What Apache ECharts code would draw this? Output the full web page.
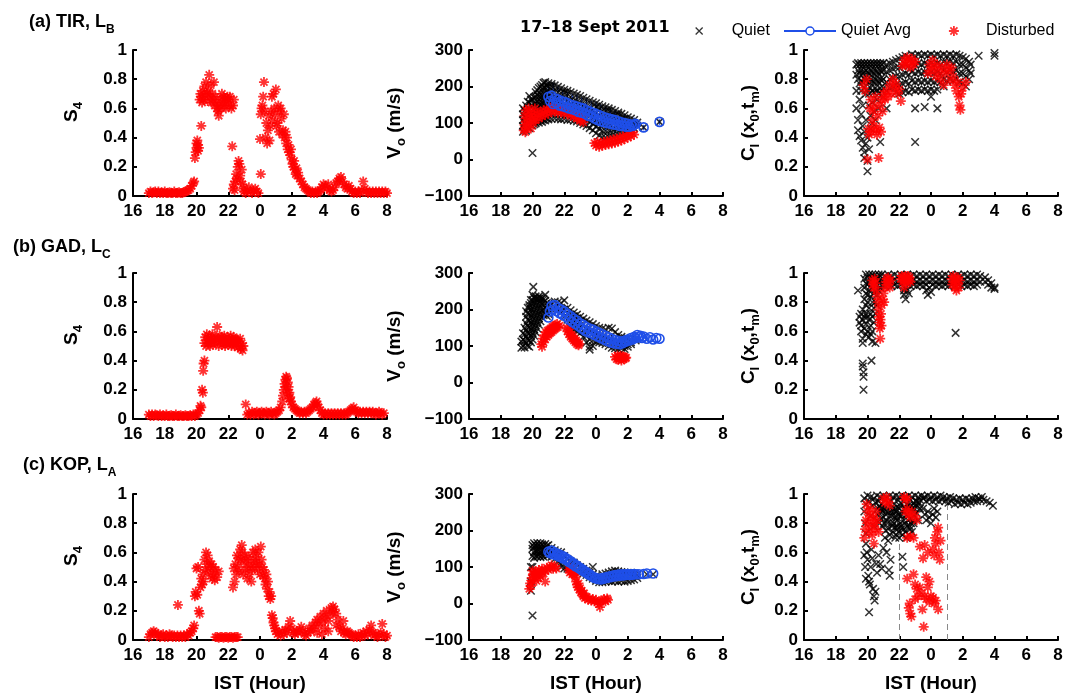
<!DOCTYPE html>
<html>
<head>
<meta charset="utf-8">
<title>S4, drift velocity and correlation, 17–18 Sept 2011</title>
<script src="https://cdn.jsdelivr.net/npm/echarts@6/dist/echarts.min.js"></script>
<style>
html,body{margin:0;padding:0;background:#fff;}
#chart{width:1076px;height:698px;}
</style>
</head>
<body>
<div id="chart"></div>
<script>
// Time axis in IST hours; values after midnight continue past 24 (25 = 01 IST).
const hourLabels = ['16','18','20','22','0','2','4','6','8'];

// Each dataset is a list of [hour, [values at that hour]].

// ---------- (a) TIR, L_B ----------
const tirS4 = [
[17.0,[0.02]],[17.1,[0.03]],[17.2,[0.02]],[17.3,[0.025]],[17.4,[0.03]],[17.5,[0.02]],[17.6,[0.03]],[17.7,[0.02]],[17.8,[0.025]],[17.9,[0.02]],
[18.0,[0.03]],[18.1,[0.02]],[18.2,[0.02]],[18.3,[0.025]],[18.4,[0.02]],[18.5,[0.02]],[18.6,[0.03]],[18.7,[0.02]],[18.8,[0.02]],[18.9,[0.025]],
[19.0,[0.02]],[19.1,[0.02]],[19.2,[0.025]],[19.3,[0.03]],[19.4,[0.035]],[19.5,[0.04]],[19.6,[0.05]],[19.7,[0.07]],[19.8,[0.09]],[19.85,[0.1]],
[19.9,[0.26]],[19.95,[0.3]],[20.0,[0.33,0.36]],[20.05,[0.38]],[20.1,[0.31,0.35]],[20.15,[0.33]],[20.3,[0.48]],
[20.2,[0.66]],[20.25,[0.7]],[20.3,[0.68]],[20.35,[0.64]],[20.4,[0.72]],[20.45,[0.66]],[20.5,[0.75]],[20.55,[0.69]],[20.6,[0.78]],[20.65,[0.7]],
[20.7,[0.65]],[20.75,[0.72]],[20.8,[0.83]],[20.85,[0.68]],[20.9,[0.76]],[20.95,[0.64]],[21.0,[0.7]],[21.05,[0.66]],[21.1,[0.78]],[21.15,[0.62]],
[21.2,[0.68]],[21.25,[0.64]],[21.3,[0.6]],[21.35,[0.58]],[21.4,[0.55]],[21.45,[0.62]],[21.5,[0.66]],[21.55,[0.6]],[21.6,[0.7]],[21.65,[0.64]],
[21.7,[0.68]],[21.75,[0.62]],[21.8,[0.67]],[21.85,[0.6]],[21.9,[0.65]],[21.95,[0.68]],[22.0,[0.66]],[22.05,[0.62]],[22.1,[0.68]],[22.2,[0.6]],
[22.3,[0.62]],[22.35,[0.66]],[22.25,[0.34]],
[22.3,[0.05]],[22.35,[0.08]],[22.4,[0.04]],[22.45,[0.1]],[22.5,[0.15]],[22.55,[0.12]],[22.6,[0.2]],[22.65,[0.24]],[22.7,[0.22]],[22.75,[0.14]],
[22.8,[0.1]],[22.85,[0.18]],[22.9,[0.08]],[22.95,[0.05]],[23.0,[0.03]],[23.1,[0.02]],[23.2,[0.04]],[23.3,[0.06]],[23.4,[0.03]],[23.5,[0.02]],
[23.6,[0.04]],[23.7,[0.05]],[23.8,[0.03]],[23.9,[0.02]],
[24.0,[0.39]],[24.05,[0.56,0.15]],[24.1,[0.6]],[24.15,[0.62]],[24.2,[0.68]],[24.25,[0.78]],[24.3,[0.58]],[24.35,[0.4]],[24.4,[0.5]],[24.45,[0.36]],
[24.5,[0.45]],[24.55,[0.55]],[24.6,[0.38]],[24.65,[0.48]],[24.7,[0.58]],[24.75,[0.68]],[24.8,[0.52]],[24.85,[0.7]],[24.9,[0.6]],[24.95,[0.56]],
[25.0,[0.73]],[25.05,[0.48]],[25.1,[0.5]],[25.15,[0.62]],[25.2,[0.44]],[25.25,[0.58]],[25.3,[0.6]],[25.35,[0.53]],[25.4,[0.42]],[25.45,[0.45]],
[25.5,[0.56]],[25.55,[0.4]],[25.6,[0.44]],[25.65,[0.36]],[25.7,[0.4]],[25.75,[0.32]],[25.8,[0.35]],[25.85,[0.3]],[25.9,[0.28]],[25.95,[0.32]],
[26.0,[0.25]],[26.05,[0.22]],[26.1,[0.2]],[26.15,[0.24]],[26.2,[0.18]],[26.25,[0.15]],[26.3,[0.19]],[26.35,[0.14]],[26.4,[0.16]],[26.5,[0.12]],
[26.6,[0.1]],[26.7,[0.08]],[26.8,[0.06]],[26.9,[0.05]],[27.0,[0.04]],[27.1,[0.03]],[27.2,[0.02]],[27.3,[0.03]],[27.4,[0.02]],[27.5,[0.03]],
[27.6,[0.02]],[27.7,[0.03]],[27.8,[0.04]],[27.9,[0.06]],[28.0,[0.08]],[28.1,[0.07]],[28.2,[0.05]],[28.3,[0.08]],[28.4,[0.04]],[28.5,[0.03]],
[28.6,[0.04]],[28.7,[0.06]],[28.8,[0.09]],[28.9,[0.1]],[29.0,[0.12]],[29.1,[0.13]],[29.2,[0.1]],[29.3,[0.08]],[29.4,[0.06]],[29.5,[0.05]],
[29.6,[0.07]],[29.7,[0.05]],[29.8,[0.03]],[29.9,[0.02]],[30.0,[0.03]],[30.1,[0.02]],[30.2,[0.03]],[30.3,[0.02]],[30.4,[0.04]],[30.5,[0.1]],
[30.6,[0.05]],[30.7,[0.03]],[30.8,[0.02]],[30.9,[0.03]],[31.0,[0.02]],[31.1,[0.03]],[31.2,[0.02]],[31.3,[0.03]],[31.4,[0.02]],[31.5,[0.03]],
[31.6,[0.02]],[31.7,[0.03]],[31.8,[0.02]],[31.9,[0.03]],[32.0,[0.02]]
];

const tirVoQuiet = [
[19.4,[76,92,108,124,140]],[19.5,[84,100,118,134]],[19.6,[79,96,113,130,148]],[19.7,[88,104,122,140,158]],
[19.8,[86,102,120,138,156,174]],[19.9,[94,110,128,146,164]],[20.0,[93,111,129,147,165,18]],[20.1,[97,115,133,151,170]],
[20.2,[99,117,135,153,171,184]],[20.3,[104,122,140,158,176,190]],[20.4,[101,119,137,155,173,196]],[20.5,[106,124,142,160,178,200]],
[20.6,[103,121,139,157,175,193,204]],[20.7,[108,126,144,162,180,198,210]],[20.8,[107,125,143,161,179,197,212]],[20.9,[112,130,148,166,184,202]],
[21.0,[110,128,146,164,182,200,209]],[21.2,[111,129,147,165,183,201,207]],[21.4,[113,131,149,167,185,203]],[21.6,[112,130,148,166,184,199]],
[21.8,[110,128,146,164,182,195]],[22.0,[111,129,147,165,183,191]],[22.2,[108,126,144,162,180,188]],[22.4,[109,127,145,163,184]],
[22.6,[106,124,142,160,181]],[22.8,[104,122,140,158,177]],[23.0,[100,118,136,154,174]],[23.2,[96,114,132,150,169]],
[23.4,[92,110,128,146,165]],[23.6,[86,104,122,140,161]],[23.8,[80,98,116,134,157]],[24.0,[72,90,108,126,144,154]],
[24.2,[66,84,102,120,138,150]],[24.4,[61,79,97,115,133,146]],[24.6,[60,78,96,114,132,143]],[24.8,[62,80,98,116,134,140]],
[25.0,[65,83,101,119,136]],[25.2,[67,85,103,121,133]],[25.4,[70,88,106,124,129]],[25.6,[72,90,108,125]],
[25.8,[76,94,112,121]],[26.0,[80,98,116]],[26.2,[82,98,112]],[26.4,[86,97,108]],[26.6,[92,101]],[27.0,[88]],[28.0,[103]]
];
const tirVoAvg = [
[21.0,172],[21.1,160],[21.2,175],[21.3,152],[21.4,168],[21.5,155],[21.6,165],[21.7,148],[21.8,160],[21.9,146],
[22.0,158],[22.1,143],[22.2,155],[22.3,140],[22.4,150],[22.5,138],[22.6,148],[22.7,135],[22.8,145],[22.9,130],
[23.0,142],[23.1,128],[23.2,140],[23.3,125],[23.4,135],[23.5,120],[23.6,132],[23.7,118],[23.8,128],[23.9,112],
[24.0,125],[24.1,108],[24.2,122],[24.3,105],[24.4,118],[24.5,102],[24.6,115],[24.7,100],[24.8,112],[24.9,98],
[25.0,110],[25.1,96],[25.2,108],[25.3,95],[25.4,105],[25.5,92],[25.6,102],[25.7,92],[25.8,100],[25.9,90],
[26.0,98],[26.1,90],[26.2,96],[26.3,92],[26.4,95],[26.5,98],[27.0,88],[28.0,103]
];
const tirVoErr = [
[21.0,130,212],[21.3,120,210],[21.6,125,200],[21.9,115,190],[22.2,118,185],[22.5,110,180],[22.8,105,178],
[23.1,100,170],[23.4,98,168],[23.7,90,160],[24.0,85,158],[24.3,80,150],[24.6,78,145],[24.9,75,140],
[25.2,72,135],[25.5,70,128],[25.8,72,125],[26.1,75,118],[26.4,80,115],[27.0,80,95],[28.0,95,110]
];
const tirVoDist = [
[19.45,[80]],[19.5,[95,120]],[19.55,[75]],[19.6,[105,135]],[19.65,[88]],[19.7,[115]],[19.75,[140]],[19.8,[98]],[19.85,[125]],
[19.9,[85]],[19.95,[110]],[20.0,[130]],[20.05,[100]],[20.1,[118]],[20.15,[140]],[20.2,[108]],[20.3,[125]],[20.4,[112]],
[20.5,[130]],[20.6,[118]],[20.7,[135]],[20.8,[122]],[20.9,[138]],[21.0,[126]],[21.1,[142]],[21.2,[130]],[21.3,[145]],
[21.4,[132]],[21.5,[140]],[21.6,[128]],[21.7,[142]],[21.8,[132]],[21.9,[138]],[22.0,[125]],[22.1,[140]],[22.2,[128]],
[22.3,[135]],[22.4,[120]],[22.5,[130]],[22.6,[118]],[22.7,[125]],[22.8,[112]],[22.9,[118]],[23.0,[106]],[23.1,[110]],[23.2,[102]],
[23.9,[45]],[24.0,[38]],[24.1,[48]],[24.2,[35]],[24.3,[45]],[24.4,[38]],[24.5,[48]],[24.6,[40]],[24.7,[50]],[24.8,[42]],
[24.9,[52]],[25.0,[44]],[25.1,[55]],[25.2,[46]],[25.3,[57]],[25.4,[49]],[25.5,[60]],[25.6,[52]],[25.7,[63]],[25.8,[56]],
[25.9,[66]],[26.0,[60]],[26.1,[70]],[26.2,[64]],[26.3,[74]],[26.4,[68]]
];

const tirCiQuiet = [
[19.3,[0.9,0.83,0.72,0.6]],[19.4,[0.91,0.86,0.8,0.52,0.45]],[19.5,[0.9,0.84,0.77,0.66,0.41]],[19.6,[0.91,0.86,0.79,0.72,0.56,0.38]],
[19.7,[0.9,0.84,0.78,0.62,0.48,0.33]],[19.8,[0.91,0.85,0.8,0.74,0.44,0.3,0.26]],[19.9,[0.9,0.86,0.79,0.7,0.52,0.36]],
[20.0,[0.91,0.85,0.8,0.73,0.4,0.24,0.17]],[20.1,[0.9,0.84,0.78,0.7,0.62,0.32]],[20.2,[0.91,0.86,0.8,0.74,0.55,0.46]],
[20.3,[0.9,0.85,0.79,0.72,0.64,0.5]],[20.4,[0.91,0.84,0.78,0.71,0.58]],[20.5,[0.9,0.86,0.8,0.74,0.52]],[20.6,[0.91,0.85,0.79,0.72,0.66]],
[20.7,[0.9,0.84,0.78,0.7,0.6]],[20.8,[0.91,0.86,0.8,0.74,0.37]],[20.9,[0.9,0.85,0.79,0.72]],[21.0,[0.91,0.86,0.8,0.74,0.68]],
[21.2,[0.9,0.85,0.78,0.72,0.6]],[21.4,[0.91,0.86,0.8,0.74]],[21.6,[0.92,0.87,0.81,0.75]],[21.8,[0.93,0.88,0.82,0.76,0.71]],
[22.0,[0.94,0.88,0.82,0.76,0.7]],[22.2,[0.95,0.89,0.83,0.77,0.71]],[22.4,[0.96,0.9,0.84,0.78,0.72]],[22.6,[0.95,0.89,0.83,0.77,0.71]],
[22.8,[0.97,0.91,0.85,0.79,0.73]],[23.0,[0.96,0.9,0.84,0.78,0.72,0.6,0.37]],[23.2,[0.97,0.91,0.85,0.79,0.73]],[23.4,[0.96,0.9,0.84,0.78,0.72]],
[23.6,[0.97,0.91,0.85,0.79,0.73,0.61]],[23.8,[0.96,0.9,0.84,0.78,0.72]],[24.0,[0.97,0.91,0.85,0.79,0.73,0.68]],[24.2,[0.96,0.9,0.84,0.78,0.72]],
[24.4,[0.97,0.91,0.85,0.79,0.73,0.6]],[24.6,[0.96,0.9,0.84,0.78]],[24.8,[0.97,0.92,0.86,0.8,0.75]],[25.0,[0.96,0.91,0.85,0.79]],
[25.2,[0.97,0.92,0.86,0.8]],[25.4,[0.96,0.91,0.85,0.79]],[25.6,[0.97,0.92,0.86,0.8]],[25.8,[0.96,0.9,0.84,0.78]],
[26.0,[0.95,0.9,0.84,0.77]],[26.2,[0.94,0.88,0.82,0.75]],[26.4,[0.92,0.86,0.8]],[26.5,[0.9,0.84]],[27.0,[0.96]],[28.0,[0.98,0.96]]
];
const tirCiDist = [
[19.75,[0.76]],[19.85,[0.72]],[19.95,[0.8]],[20.0,[0.25]],[20.05,[0.46]],[20.1,[0.42]],[20.15,[0.6]],[20.2,[0.66]],[20.25,[0.44]],
[20.3,[0.52]],[20.35,[0.58]],[20.4,[0.48]],[20.45,[0.62]],[20.5,[0.68]],[20.55,[0.45]],[20.6,[0.42]],[20.65,[0.55]],[20.7,[0.26]],
[20.75,[0.47]],[20.8,[0.62]],[20.85,[0.44]],[20.9,[0.66]],[20.95,[0.58]],[21.0,[0.7]],[21.1,[0.66]],[21.2,[0.72]],[21.3,[0.68]],
[21.4,[0.76]],[21.5,[0.7]],[21.6,[0.8]],[21.7,[0.74]],[21.8,[0.77]],[21.9,[0.7]],[22.0,[0.73]],[22.1,[0.65]],[22.2,[0.89]],
[22.3,[0.93]],[22.4,[0.9]],[22.5,[0.95]],[22.6,[0.92]],[22.7,[0.88]],[22.8,[0.94]],[22.9,[0.9]],[23.0,[0.92]],
[23.8,[0.84]],[23.9,[0.9]],[24.0,[0.86]],[24.1,[0.93]],[24.2,[0.88]],[24.3,[0.82]],[24.4,[0.9]],[24.5,[0.85]],[24.6,[0.8]],
[24.7,[0.88]],[24.8,[0.76]],[24.9,[0.84]],[25.0,[0.9]],[25.1,[0.86]],[25.2,[0.79]],[25.3,[0.88]],[25.4,[0.82]],[25.5,[0.76]],
[25.6,[0.72]],[25.7,[0.78]],[25.75,[0.68]],[25.8,[0.62]],[25.85,[0.59]],[25.9,[0.7]],[26.0,[0.74]],[26.2,[0.78]]
];

// ---------- (b) GAD, L_C ----------
const gadS4 = [
[17.0,[0.03]],[17.1,[0.02]],[17.2,[0.03]],[17.3,[0.02]],[17.4,[0.03]],[17.5,[0.025]],[17.6,[0.02]],[17.7,[0.03]],[17.8,[0.02]],[17.9,[0.025]],
[18.0,[0.02]],[18.1,[0.03]],[18.2,[0.02]],[18.3,[0.02]],[18.4,[0.025]],[18.5,[0.02]],[18.6,[0.02]],[18.7,[0.03]],[18.8,[0.02]],[18.9,[0.02]],
[19.0,[0.025]],[19.1,[0.02]],[19.2,[0.02]],[19.3,[0.025]],[19.4,[0.02]],[19.5,[0.02]],[19.6,[0.025]],[19.7,[0.02]],[19.8,[0.03]],[19.9,[0.02]],
[20.0,[0.03]],[20.1,[0.04]],[20.2,[0.06]],[20.25,[0.09]],[20.3,[0.08]],[20.35,[0.2]],[20.4,[0.18]],[20.42,[0.33]],[20.45,[0.38]],[20.5,[0.4]],
[20.5,[0.52]],[20.55,[0.56]],[20.6,[0.5]],[20.65,[0.58]],[20.7,[0.54]],[20.75,[0.52]],[20.8,[0.57]],[20.85,[0.5]],[20.9,[0.55]],[20.95,[0.53]],
[21.0,[0.58]],[21.05,[0.51]],[21.1,[0.55]],[21.15,[0.52]],[21.2,[0.56]],[21.3,[0.63]],[21.35,[0.54]],[21.4,[0.5]],[21.45,[0.57]],[21.5,[0.53]],
[21.55,[0.56]],[21.6,[0.51]],[21.65,[0.55]],[21.7,[0.52]],[21.75,[0.57]],[21.8,[0.5]],[21.85,[0.54]],[21.9,[0.52]],[21.95,[0.56]],[22.0,[0.51]],
[22.05,[0.55]],[22.1,[0.52]],[22.15,[0.57]],[22.2,[0.5]],[22.25,[0.54]],[22.3,[0.52]],[22.35,[0.56]],[22.4,[0.5]],[22.45,[0.55]],[22.5,[0.52]],
[22.55,[0.54]],[22.6,[0.49]],[22.65,[0.53]],[22.7,[0.5]],[22.75,[0.55]],[22.8,[0.48]],[22.85,[0.52]],[22.9,[0.47]],[22.95,[0.5]],
[23.1,[0.1]],[23.2,[0.03]],[23.3,[0.04]],[23.4,[0.03]],[23.5,[0.05]],[23.6,[0.03]],[23.7,[0.04]],[23.8,[0.05]],[23.9,[0.03]],[24.0,[0.04]],
[24.1,[0.05]],[24.2,[0.04]],[24.3,[0.03]],[24.4,[0.05]],[24.5,[0.04]],[24.6,[0.03]],[24.7,[0.05]],[24.8,[0.04]],[24.9,[0.03]],[25.0,[0.04]],
[25.1,[0.05]],[25.2,[0.06]],[25.3,[0.08]],[25.4,[0.12]],[25.45,[0.16]],[25.5,[0.2]],[25.55,[0.24]],[25.6,[0.27]],[25.65,[0.29,0.22]],[25.7,[0.28]],
[25.75,[0.25,0.18]],[25.8,[0.22]],[25.85,[0.18,0.14]],[25.9,[0.15]],[25.95,[0.12]],[26.0,[0.1]],[26.1,[0.08]],[26.2,[0.07]],[26.3,[0.06]],[26.4,[0.05]],
[26.5,[0.04]],[26.6,[0.05]],[26.7,[0.04]],[26.8,[0.05]],[26.9,[0.04]],[27.0,[0.05]],[27.1,[0.06]],[27.2,[0.07]],[27.3,[0.08]],[27.4,[0.1]],
[27.5,[0.11]],[27.56,[0.12]],[27.6,[0.1]],[27.7,[0.08]],[27.8,[0.06]],[27.9,[0.04]],[28.0,[0.03]],[28.1,[0.04]],[28.2,[0.03]],[28.3,[0.04]],
[28.4,[0.03]],[28.5,[0.04]],[28.6,[0.03]],[28.7,[0.04]],[28.8,[0.03]],[28.9,[0.04]],[29.0,[0.03]],[29.1,[0.04]],[29.2,[0.03]],[29.3,[0.04]],
[29.4,[0.03]],[29.5,[0.04]],[29.6,[0.05]],[29.7,[0.06]],[29.8,[0.07]],[29.9,[0.08]],[30.0,[0.06]],[30.1,[0.05]],[30.2,[0.04]],[30.3,[0.05]],
[30.4,[0.04]],[30.5,[0.05]],[30.6,[0.04]],[30.7,[0.05]],[30.8,[0.04]],[30.9,[0.05]],[31.0,[0.04]],[31.1,[0.05]],[31.2,[0.04]],[31.3,[0.03]],
[31.4,[0.04]],[31.5,[0.05]],[31.6,[0.04]],[31.7,[0.03]],[31.8,[0.04]]
];

const gadVoQuiet = [
[19.3,[95,112]],[19.4,[100,118,135]],[19.5,[96,114,132,150]],[19.6,[108,126,144,162,180,195]],
[19.7,[100,118,136,154,172,190,205]],[19.8,[98,116,134,152,170,188,206,212]],[19.9,[110,128,146,164,182,200,218,226]],
[20.0,[118,136,154,172,190,208,226,240]],[20.05,[262]],[20.1,[128,146,164,182,200,218,232]],[20.2,[138,156,174,192,210,228,236]],
[20.3,[148,166,184,202,220,230]],[20.4,[158,176,194,212,230,236]],[20.5,[168,186,204,222,232]],[20.6,[178,196,214,230]],
[20.7,[184,202,220,228]],[20.8,[188,206,224,240]],[20.9,[182,200,218]],[21.0,[188,206,215]],[21.2,[200,215]],[21.4,[205,222]],
[21.6,[198,220]],[21.8,[192,218]],[22.0,[180,200,225]],[22.2,[172,190,205]],[22.4,[150,168,186,198]],[22.6,[145,164,182,192]],
[22.8,[140,158,176,186]],[23.0,[135,152,168,180]],[23.2,[125,142,160,175]],[23.4,[110,128,146,170]],[23.6,[90,98,118,138,165]],
[23.8,[100,116,134,160]],[24.0,[112,130,155]],[24.2,[110,126,150]],[24.4,[108,125,148]],[24.6,[105,120,145]],[24.8,[100,116,150]],
[25.0,[95,112,148]],[25.2,[94,108,138]],[25.4,[92,105,130]],[25.6,[95,100,125]],[25.8,[92,100,122]],[26.0,[98,105,120]],
[26.2,[105,110,118]],[26.5,[115,120]]
];
const gadVoAvg = [
[21.0,178],[21.1,195],[21.2,210],[21.3,200],[21.4,212],[21.5,196],[21.6,205],[21.7,190],[21.8,200],[21.9,185],
[22.0,195],[22.1,180],[22.2,188],[22.3,172],[22.4,182],[22.5,166],[22.6,175],[22.7,160],[22.8,170],[22.9,155],
[23.0,162],[23.1,148],[23.2,158],[23.3,142],[23.4,152],[23.5,138],[23.6,148],[23.7,135],[23.8,145],[23.9,130],
[24.0,140],[24.1,126],[24.2,136],[24.3,122],[24.4,132],[24.5,118],[24.6,128],[24.7,114],[24.8,124],[24.9,110],
[25.0,120],[25.1,108],[25.2,116],[25.3,106],[25.4,114],[25.5,105],[25.6,112],[25.7,108],[25.8,115],[25.9,112],
[26.0,118],[26.1,115],[26.2,122],[26.3,118],[26.4,125],[26.5,122],[26.6,130],[26.7,124],[26.8,128],[26.9,122],
[27.0,126],[27.2,120],[27.4,124],[27.6,118],[27.8,122],[28.0,120]
];
const gadVoErr = [
[21.2,190,228],[21.6,182,220],[22.0,178,212],[22.5,150,182],[23.0,145,178],[23.5,122,155],[24.0,122,158],
[24.5,105,132],[25.0,105,135],[25.5,96,118],[26.0,108,128],[26.5,115,132]
];
const gadVoDist = [
[20.55,[105]],[20.6,[98]],[20.65,[120]],[20.7,[110]],[20.75,[130]],[20.8,[118]],[20.85,[138]],[20.9,[125]],[20.95,[142]],[21.0,[130]],
[21.05,[145]],[21.1,[135]],[21.15,[148]],[21.2,[138]],[21.25,[152]],[21.3,[142]],[21.35,[155]],[21.4,[146]],[21.45,[158]],[21.5,[150]],
[21.55,[160]],[21.6,[152]],[21.7,[156]],
[22.15,[150]],[22.2,[140]],[22.25,[145]],[22.3,[132]],[22.35,[138]],[22.4,[125]],[22.45,[130]],[22.5,[120]],[22.55,[126]],[22.6,[115]],
[22.65,[120]],[22.7,[110]],[22.75,[115]],[22.8,[105]],[22.85,[110]],[22.9,[102]],[22.95,[106]],
[25.2,[70]],[25.3,[64]],[25.35,[74]],[25.4,[62]],[25.45,[70]],[25.5,[66]],[25.55,[73]],[25.6,[60]],[25.65,[68]],[25.7,[72]],
[25.75,[64]],[25.8,[70]],[25.85,[66]],[25.9,[68]]
];

const gadCiQuiet = [
[19.4,[0.88]],[19.5,[0.7,0.66]],[19.6,[0.72,0.6,0.64]],[19.7,[0.75,0.68,0.55,0.52,0.38,0.36]],[19.75,[0.2,0.29,0.32]],
[19.8,[0.96,0.9,0.82,0.7,0.62]],[19.9,[0.99,0.93,0.86,0.78,0.72,0.65,0.58]],[20.0,[0.97,0.92,0.85,0.8,0.7,0.6]],
[20.1,[0.99,0.94,0.88,0.76,0.68,0.56]],[20.2,[0.97,0.91,0.84,0.72,0.64,0.58]],[20.25,[0.4]],[20.3,[0.99,0.95,0.89,0.8,0.7,0.6,0.53]],
[20.4,[0.98,0.92,0.86,0.76,0.66]],[20.5,[0.99,0.95,0.88,0.8,0.72,0.52]],[20.6,[0.97,0.92,0.85,0.78]],[20.7,[0.99,0.94,0.88]],
[20.8,[0.98,0.93,0.9]],[20.9,[0.99,0.95,0.92]],[21.1,[0.98,0.94,0.91]],[21.3,[0.99,0.95,0.92]],[21.5,[0.98,0.94,0.91]],
[21.7,[0.99,0.95,0.92]],[21.9,[0.98,0.94,0.91]],[22.1,[0.99,0.95,0.92]],[22.3,[0.98,0.94,0.88,0.85]],[22.4,[0.82,0.9]],
[22.5,[0.99,0.95,0.88]],[22.6,[0.86]],[22.7,[0.98,0.94,0.91]],[22.9,[0.99,0.95,0.92]],[23.1,[0.98,0.94,0.91]],[23.3,[0.99,0.95,0.92]],
[23.5,[0.98,0.94,0.91]],[23.7,[0.99,0.95,0.92,0.88]],[23.8,[0.85]],[23.9,[0.98,0.94,0.9]],[24.0,[0.87]],[24.1,[0.99,0.95,0.92]],
[24.3,[0.98,0.94,0.91]],[24.5,[0.99,0.95,0.92]],[24.7,[0.98,0.94,0.91]],[24.9,[0.99,0.95,0.92]],[25.1,[0.98,0.94,0.91]],
[25.3,[0.99,0.95,0.92]],[25.5,[0.98,0.94,0.91]],[25.55,[0.59]],[25.7,[0.99,0.95,0.92]],[25.9,[0.98,0.94,0.91]],[26.1,[0.99,0.95,0.92]],
[26.3,[0.98,0.94,0.91]],[26.5,[0.99,0.95,0.92]],[26.7,[0.98,0.94,0.91]],[26.9,[0.99,0.95,0.92]],[27.1,[0.98,0.94]],
[27.4,[0.97,0.94]],[27.6,[0.95,0.92]],[27.8,[0.93,0.9]],[28.0,[0.9,0.89]]
];
const gadCiDist = [
[20.3,[0.95]],[20.35,[0.92]],[20.4,[0.9]],[20.45,[0.96]],[20.5,[0.93]],[20.55,[0.88]],[20.6,[0.84]],[20.65,[0.8]],[20.7,[0.75]],
[20.72,[0.7]],[20.75,[0.66]],[20.78,[0.62]],[20.8,[0.55]],[20.82,[0.68]],[20.85,[0.72]],[20.88,[0.64]],[20.9,[0.78]],[20.95,[0.82]],
[21.0,[0.86]],[21.05,[0.8]],[21.1,[0.9]],[21.15,[0.94]],[21.2,[0.96]],[21.25,[0.92]],[21.3,[0.97]],[21.35,[0.94]],[21.4,[0.9]],[21.45,[0.95]],
[22.1,[0.96]],[22.15,[0.98]],[22.2,[0.94]],[22.25,[0.97]],[22.3,[0.9]],[22.35,[0.95]],[22.4,[0.98]],[22.45,[0.93]],[22.5,[0.96]],
[22.55,[0.98]],[22.6,[0.95]],[22.65,[0.97]],[22.7,[0.94]],
[25.3,[0.96]],[25.35,[0.92]],[25.4,[0.98]],[25.45,[0.94]],[25.5,[0.9]],[25.55,[0.96]],[25.6,[0.88]],[25.65,[0.93]],[25.7,[0.97]],
[25.75,[0.9]],[25.8,[0.95]]
];

// ---------- (c) KOP, L_A ----------
const kopS4 = [
[17.0,[0.02]],[17.1,[0.04]],[17.2,[0.05]],[17.3,[0.06]],[17.4,[0.05]],[17.5,[0.03]],[17.6,[0.04]],[17.7,[0.02]],[17.8,[0.03]],[17.9,[0.04]],
[18.0,[0.02]],[18.1,[0.03]],[18.2,[0.02]],[18.3,[0.04]],[18.4,[0.03]],[18.5,[0.02]],[18.6,[0.03]],[18.7,[0.02]],[18.8,[0.03]],[18.83,[0.24]],
[18.9,[0.02]],[19.0,[0.03]],[19.1,[0.02]],[19.2,[0.03]],[19.3,[0.02]],[19.4,[0.04]],[19.5,[0.03]],[19.6,[0.05]],[19.7,[0.06]],[19.8,[0.08]],
[19.85,[0.1]],[19.9,[0.3]],[19.95,[0.33]],[20.0,[0.49]],[20.05,[0.31]],[20.1,[0.5]],[20.15,[0.2]],[20.2,[0.18]],[20.25,[0.36]],[20.3,[0.42]],
[20.35,[0.38]],[20.4,[0.45]],[20.45,[0.4]],[20.5,[0.55]],[20.55,[0.48]],[20.6,[0.6]],[20.65,[0.52]],[20.7,[0.58]],[20.75,[0.47]],[20.8,[0.54]],
[20.85,[0.5]],[20.9,[0.44]],[20.95,[0.52]],[21.0,[0.42]],[21.05,[0.5]],[21.1,[0.45]],[21.15,[0.41]],[21.2,[0.48]],[21.3,[0.43]],[21.4,[0.47]],
[21.2,[0.02]],[21.3,[0.02]],[21.4,[0.015]],[21.5,[0.02]],[21.6,[0.02]],[21.7,[0.015]],[21.8,[0.02]],[21.9,[0.02]],[22.0,[0.015]],[22.1,[0.02]],
[22.2,[0.02]],[22.3,[0.015]],[22.4,[0.02]],[22.5,[0.02]],[22.6,[0.02]],
[22.3,[0.36]],[22.35,[0.49]],[22.4,[0.4]],[22.45,[0.52]],[22.5,[0.45]],[22.55,[0.58]],[22.6,[0.5]],[22.65,[0.56]],[22.7,[0.47]],[22.75,[0.62]],
[22.8,[0.55]],[22.85,[0.65]],[22.9,[0.6]],[22.95,[0.45]],[23.0,[0.53]],[23.05,[0.58]],[23.1,[0.48]],[23.15,[0.55]],[23.2,[0.42]],[23.25,[0.5]],
[23.3,[0.57]],[23.35,[0.45]],[23.4,[0.52]],[23.45,[0.4]],[23.5,[0.48]],[23.55,[0.6]],[23.6,[0.55]],[23.65,[0.5]],[23.7,[0.62]],[23.75,[0.53]],
[23.8,[0.57]],[23.85,[0.48]],[23.9,[0.6]],[23.95,[0.52]],[24.0,[0.45]],[24.05,[0.64]],[24.1,[0.55]],[24.15,[0.5]],[24.2,[0.44]],[24.25,[0.48]],
[24.3,[0.42]],[24.35,[0.38]],[24.4,[0.45]],[24.45,[0.35]],[24.5,[0.4]],[24.55,[0.3]],[24.6,[0.33]],[24.65,[0.28]],[24.7,[0.3]],[24.75,[0.17]],
[24.8,[0.15]],[24.85,[0.12]],[24.9,[0.1]],[24.95,[0.08]],
[25.0,[0.06]],[25.1,[0.04]],[25.2,[0.05]],[25.3,[0.03]],[25.4,[0.06]],[25.5,[0.04]],[25.6,[0.07]],[25.7,[0.05]],[25.8,[0.09]],[25.9,[0.13]],
[26.0,[0.08]],[26.1,[0.05]],[26.2,[0.04]],[26.3,[0.06]],[26.4,[0.05]],[26.5,[0.07]],[26.6,[0.09]],[26.7,[0.06]],[26.8,[0.04]],[26.9,[0.03]],
[27.0,[0.05]],[27.1,[0.08]],[27.2,[0.06]],[27.3,[0.1]],[27.4,[0.08]],[27.5,[0.12]],[27.6,[0.05,0.14]],[27.7,[0.1]],[27.8,[0.16]],[27.9,[0.12,0.04]],
[28.0,[0.18]],[28.1,[0.08,0.15]],[28.2,[0.2]],[28.3,[0.13,0.06]],[28.4,[0.17]],[28.5,[0.22]],[28.6,[0.19,0.23]],[28.7,[0.21]],[28.8,[0.18,0.1]],[28.9,[0.14]],
[29.0,[0.09]],[29.1,[0.06]],[29.2,[0.08]],[29.25,[0.13]],[29.3,[0.05]],[29.4,[0.04]],[29.5,[0.06]],[29.6,[0.05]],[29.7,[0.04]],[29.8,[0.03]],
[29.9,[0.02]],[30.0,[0.03]],[30.1,[0.02]],[30.2,[0.04]],[30.3,[0.02]],[30.4,[0.03]],[30.5,[0.05]],[30.6,[0.03]],[30.7,[0.06]],[30.8,[0.04]],
[30.9,[0.07]],[31.0,[0.1]],[31.1,[0.05]],[31.2,[0.03]],[31.3,[0.04]],[31.4,[0.02]],[31.5,[0.03]],[31.6,[0.05]],[31.7,[0.11]],[31.8,[0.04]],
[31.9,[0.02]],[32.0,[0.03]]
];

const kopVoQuiet = [
[19.9,[35,60,100]],[20.0,[-33,85,100,130,150,160]],[20.1,[125,140,155,165]],[20.2,[130,145,160]],[20.3,[128,142,157,166]],
[20.4,[132,147,160]],[20.5,[127,141,156,165]],[20.6,[133,148,162]],[20.7,[128,143,158]],[20.8,[135,150,163]],[20.9,[130,145,158]],
[21.0,[132,150,160]],[21.2,[128,152]],[21.4,[122,146]],[21.6,[115,142]],[21.8,[100,108,140]],[22.0,[96,130]],[22.2,[95,102,122]],
[22.4,[100,116]],[22.6,[95,112]],[22.8,[90,105]],[23.0,[86,100]],[23.2,[82,95]],[23.4,[78,90]],[23.6,[72,85]],[23.8,[68,80,100]],
[24.0,[62,75]],[24.2,[58,70]],[24.4,[58,68,80]],[24.6,[60,70,82]],[24.8,[62,72,85]],[25.0,[60,74,88]],[25.2,[62,75,90]],
[25.4,[60,73,88]],[25.6,[62,75,86]],[25.8,[60,72,85]],[26.0,[62,74,84]],[26.2,[64,75,84]],[26.4,[66,76,82]],[26.6,[70,78]],
[27.2,[80]],[27.6,[80]]
];
const kopVoAvg = [
[21.0,142],[21.1,138],[21.2,145],[21.3,135],[21.4,140],[21.5,132],[21.6,136],[21.7,128],[21.8,132],[21.9,124],
[22.0,128],[22.1,120],[22.2,122],[22.3,114],[22.4,116],[22.5,108],[22.6,110],[22.7,102],[22.8,104],[22.9,97],
[23.0,98],[23.1,91],[23.2,92],[23.3,86],[23.4,86],[23.5,80],[23.6,80],[23.7,75],[23.8,74],[23.9,70],
[24.0,70],[24.1,67],[24.2,68],[24.3,66],[24.4,70],[24.5,68],[24.6,72],[24.7,70],[24.8,74],[24.9,72],
[25.0,76],[25.1,74],[25.2,78],[25.3,75],[25.4,79],[25.5,76],[25.6,80],[25.7,77],[25.8,80],[25.9,78],
[26.0,81],[26.1,78],[26.2,80],[26.3,79],[26.4,81],[26.5,80],[26.7,80],[27.0,81],[27.2,82],[27.6,82]
];
const kopVoErr = [
[21.2,135,155],[21.8,120,140],[22.4,105,128],[23.0,90,108],[23.6,72,88],[24.2,60,75],[25.0,70,82],[26.0,74,86]
];
const kopVoDist = [
[19.8,[40]],[19.85,[55]],[19.9,[48]],[19.95,[70]],[20.0,[62,90]],[20.05,[80]],[20.1,[72]],[20.15,[88]],[20.2,[78]],[20.25,[62]],
[20.3,[85]],[20.35,[70]],[20.4,[92]],[20.45,[80]],[20.5,[75]],[20.55,[88]],[20.6,[95]],[20.7,[82]],[20.8,[60,90]],[20.9,[98]],
[21.0,[92]],[21.1,[100]],[21.2,[105]],[21.3,[95]],[21.4,[102]],[21.5,[96]],
[22.3,[92]],[22.35,[85]],[22.4,[96]],[22.45,[88]],[22.5,[80]],[22.55,[90]],[22.6,[84]],[22.65,[78]],[22.7,[72]],[22.75,[60]],
[22.8,[52]],[22.85,[45]],[22.9,[55]],[22.95,[38]],[23.0,[42]],[23.05,[30]],[23.1,[35]],[23.15,[25]],[23.2,[20]],[23.25,[28]],
[23.3,[15]],[23.4,[18]],[23.5,[10]],[23.6,[14]],[23.7,[8]],[23.8,[12]],[23.9,[6]],[24.0,[10]],[24.1,[4]],[24.2,[-2]],
[24.25,[-10]],[24.3,[5]],[24.4,[8]],[24.5,[12]],[24.6,[6]],[24.7,[14]],[24.75,[10]]
];

const kopCiQuiet = [
[19.8,[0.97,0.88,0.58]],[19.85,[0.8,0.5]],[19.9,[0.93,0.73,0.66,0.42]],[19.95,[0.6]],[20.0,[0.99,0.55]],[20.05,[0.44]],
[20.1,[0.95,0.4,0.19]],[20.15,[0.38]],[20.2,[0.98,0.85,0.5]],[20.25,[0.62]],[20.3,[0.92,0.56]],[20.35,[0.35]],
[20.4,[0.97,0.78,0.3]],[20.45,[0.27]],[20.5,[0.94,0.33]],[20.55,[0.52]],[20.6,[0.99,0.82,0.46]],[20.7,[0.95,0.58]],
[20.8,[0.98,0.88,0.52]],[20.9,[0.93,0.49]],[21.0,[0.99,0.84,0.63]],[21.1,[0.96,0.7]],[21.2,[0.98,0.88,0.82,0.6]],[21.3,[0.94,0.76,0.68]],
[21.35,[0.48]],[21.4,[0.99,0.85,0.72,0.44]],[21.45,[0.55]],[21.5,[0.95,0.88,0.8]],[21.6,[0.98,0.9,0.74]],[21.7,[0.93,0.84,0.77]],
[21.8,[0.99,0.88,0.72]],[21.9,[0.96,0.82,0.76]],[22.0,[0.98,0.9,0.7]],[22.1,[0.94,0.85,0.78]],[22.2,[0.99,0.88,0.72,0.57]],
[22.25,[0.5]],[22.3,[0.95,0.82,0.76]],[22.4,[0.98,0.9,0.74]],[22.5,[0.93,0.86,0.78]],[22.6,[0.99,0.9,0.72]],[22.7,[0.96,0.83,0.76]],
[22.8,[0.98,0.9,0.74]],[22.9,[0.94,0.85,0.8]],[23.0,[0.99,0.92]],[23.1,[0.95,0.87]],[23.2,[0.98,0.82]],[23.3,[0.96,0.9]],
[20.65,[0.9,0.86]],[20.75,[0.92,0.8]],[20.85,[0.9,0.83]],[20.95,[0.88,0.78]],[21.05,[0.9,0.8]],[21.15,[0.86,0.75]],[21.25,[0.9,0.8]],
[21.55,[0.85,0.78]],[21.65,[0.88,0.8]],[21.75,[0.9,0.7]],[21.85,[0.84,0.78]],[21.95,[0.86,0.74]],[22.05,[0.92,0.8]],[22.15,[0.86,0.76]],
[22.35,[0.9,0.8]],[22.45,[0.86,0.7]],[22.55,[0.92,0.82]],[22.65,[0.88,0.78]],[22.75,[0.92,0.8]],[22.85,[0.88,0.82]],[22.95,[0.9,0.85]],
[23.05,[0.95]],[23.15,[0.92]],[23.25,[0.94]],
[23.4,[0.99]],[23.5,[0.97,0.9]],[23.6,[0.98,0.86]],[23.7,[0.95,0.82]],[23.8,[0.99,0.88]],[23.9,[0.96,0.84]],[24.0,[0.98,0.8]],
[24.1,[0.95,0.86]],[24.2,[0.99,0.9]],[24.3,[0.96,0.84]],[24.4,[0.98,0.88]],[24.5,[0.95]],[24.6,[0.99]],[24.7,[0.96]],[24.8,[0.98]],
[24.9,[0.95]],[25.0,[0.97]],[25.1,[0.94]],[25.2,[0.98]],[25.3,[0.95]],[25.4,[0.97]],[25.5,[0.93]],[25.6,[0.96]],[25.7,[0.94]],
[25.8,[0.97]],[25.9,[0.93]],[26.0,[0.96]],[26.1,[0.94]],[26.2,[0.97]],[26.3,[0.93]],[26.4,[0.96]],[26.5,[0.94]],[26.6,[0.97]],
[26.7,[0.95]],[26.8,[0.98]],[26.9,[0.95]],[27.0,[0.97]],[27.1,[0.96]],[27.2,[0.98]],[27.3,[0.96]],[27.5,[0.95]],[27.7,[0.94]],[27.9,[0.92]]
];
const kopCiDist = [
[19.8,[0.7]],[19.85,[0.76]],[19.9,[0.82]],[19.95,[0.93]],[20.0,[0.88]],[20.05,[0.8]],[20.1,[0.74]],[20.15,[0.85]],[20.2,[0.9]],
[20.25,[0.78]],[20.3,[0.72]],[20.35,[0.84]],[20.4,[0.66]],[20.45,[0.8]],[20.5,[0.76]],[20.55,[0.88]],[20.6,[0.82]],[20.7,[0.74]],
[21.0,[0.97]],[21.1,[0.94]],[21.2,[0.98]],[21.3,[0.95]],[21.4,[0.92]],
[22.3,[0.98]],[22.4,[0.96,0.88]],[22.5,[0.97,0.9,0.7]],[22.6,[0.86]],[22.7,[0.84,0.71]],[22.8,[0.88]],[22.9,[0.7]],[23.0,[0.85]],[23.1,[0.82]],
[23.3,[0.64]],[23.5,[0.56]],[23.6,[0.65]],[23.8,[0.6]],
[24.1,[0.62]],[24.2,[0.58]],[24.25,[0.7]],[24.3,[0.66]],[24.4,[0.74]],[24.45,[0.77]],[24.5,[0.6]],[24.55,[0.55]],[24.6,[0.68]],
[22.5,[0.42]],[22.6,[0.22]],[22.66,[0.25]],[22.7,[0.18]],[22.76,[0.16]],[22.9,[0.45]],[23.0,[0.38,0.28]],[23.1,[0.35]],[23.18,[0.3]],
[23.3,[0.36]],[23.4,[0.32]],[23.46,[0.21]],[23.54,[0.09]],[23.6,[0.3]],[23.7,[0.43,0.28]],[23.8,[0.36]],[23.9,[0.4,0.26]],
[24.0,[0.3]],[24.13,[0.29]],[24.2,[0.25]],[24.3,[0.27]],[24.45,[0.21]]
];

// ---------- drawing ----------
const FONT = '"Liberation Sans", Arial, Helvetica, sans-serif';
const BLACK = '#000000', RED = '#ff0000', BLUE = '#1f4fe8';
const CROSS = 'path://M0,0L10,10M10,0L0,10';
const STAR = 'path://M5,0L5,10M0,5L10,5M1.46,1.46L8.54,8.54M8.54,1.46L1.46,8.54';

const colLeft = [133, 469, 804];
const rowTop = [50, 273, 494];
const GW = 254, GH = 146;

function expand(cols) {
  const out = [];
  cols.forEach(function (c) { c[1].forEach(function (v) { out.push([c[0], v]); }); });
  return out;
}

const panels = [
  { row: 0, col: 0, kind: 's4', dist: tirS4 },
  { row: 0, col: 1, kind: 'vo', quiet: tirVoQuiet, avg: tirVoAvg, err: tirVoErr, dist: tirVoDist },
  { row: 0, col: 2, kind: 'ci', quiet: tirCiQuiet, dist: tirCiDist },
  { row: 1, col: 0, kind: 's4', dist: gadS4 },
  { row: 1, col: 1, kind: 'vo', quiet: gadVoQuiet, avg: gadVoAvg, err: gadVoErr, dist: gadVoDist },
  { row: 1, col: 2, kind: 'ci', quiet: gadCiQuiet, dist: gadCiDist },
  { row: 2, col: 0, kind: 's4', dist: kopS4 },
  { row: 2, col: 1, kind: 'vo', quiet: kopVoQuiet, avg: kopVoAvg, err: kopVoErr, dist: kopVoDist },
  { row: 2, col: 2, kind: 'ci', quiet: kopCiQuiet, dist: kopCiDist, guides: [22, 25] }
];

const mainTxt = { fontFamily: FONT, fontWeight: 'bold', fontSize: 19, color: BLACK };
const subTxt = { fontFamily: FONT, fontWeight: 'bold', fontSize: 13, color: BLACK, padding: [14, 0, 0, 0] };

const yKinds = {
  s4: { min: 0, max: 1, interval: 0.2, name: '{m|S}{s|4}', gap: 48, pad: [0, 0, 0, 22] },
  vo: { min: -100, max: 300, interval: 100, name: '{m|V}{s|o}{m| (m/s)}', gap: 61, pad: 0 },
  ci: { min: 0, max: 1, interval: 0.2, name: '{m|C}{s|I}{m| (x}{s|0}{m|,t}{s|m}{m|)}', gap: 42, pad: 0 }
};

const axisLineStyle = { color: BLACK, width: 2 };
const tickLabel = { color: BLACK, fontFamily: FONT, fontWeight: 'bold', fontSize: 17 };

const grids = [], xAxes = [], yAxes = [], series = [];

panels.forEach(function (p, g) {
  grids.push({ left: colLeft[p.col], top: rowTop[p.row], width: GW, height: GH, containLabel: false, outerBoundsMode: 'none' });
  xAxes.push({
    type: 'value', gridIndex: g, min: 16, max: 32, interval: 2,
    axisLine: { show: true, onZero: false, lineStyle: axisLineStyle },
    axisTick: { show: true, inside: true, length: 4, lineStyle: axisLineStyle },
    axisLabel: Object.assign({ margin: 7, showMinLabel: true, showMaxLabel: true,
      formatter: function (v) { return hourLabels[Math.round((v - 16) / 2)]; } }, tickLabel),
    splitLine: { show: false },
    name: p.row === 2 ? 'IST (Hour)' : '',
    nameLocation: 'middle', nameGap: 34, nameMoveOverlap: false,
    nameTextStyle: { fontFamily: FONT, fontWeight: 'bold', fontSize: 19, color: BLACK }
  });
  const yk = yKinds[p.kind];
  yAxes.push({
    type: 'value', gridIndex: g, min: yk.min, max: yk.max, interval: yk.interval,
    axisLine: { show: true, onZero: false, lineStyle: axisLineStyle },
    axisTick: { show: true, inside: true, length: 4, lineStyle: axisLineStyle },
    axisLabel: Object.assign({ margin: 6, showMinLabel: true, showMaxLabel: true,
      formatter: function (v) { return v < 0 ? '\u2212' + Math.abs(v) : String(v); } }, tickLabel),
    splitLine: { show: false },
    name: yk.name, nameLocation: 'middle', nameGap: yk.gap, nameMoveOverlap: false,
    nameTextStyle: { padding: yk.pad, rich: { m: mainTxt, s: subTxt } }
  });

  if (p.quiet) {
    const q = {
      type: 'scatter', name: 'Quiet', xAxisIndex: g, yAxisIndex: g, data: expand(p.quiet),
      symbol: CROSS, symbolSize: 7.5, symbolKeepAspect: true,
      itemStyle: { color: 'rgba(0,0,0,0)', borderColor: BLACK, borderWidth: 1.5 },
      silent: true, animation: false
    };
    if (p.guides) {
      q.markLine = {
        silent: true, symbol: 'none', z: 1, animation: false,
        label: { show: false },
        lineStyle: { color: '#8a8a8a', type: [6, 4], width: 1 },
        data: p.guides.map(function (h) { return { xAxis: h }; })
      };
    }
    series.push(q);
  }
  if (p.err) {
    series.push({
      type: 'custom', name: 'Quiet Avg range', xAxisIndex: g, yAxisIndex: g, data: p.err,
      encode: { x: 0, y: [1, 2] }, silent: true, animation: false,
      renderItem: function (params, api) {
        const a = api.coord([api.value(0), api.value(1)]);
        const b = api.coord([api.value(0), api.value(2)]);
        return { type: 'line', shape: { x1: a[0], y1: a[1], x2: b[0], y2: b[1] },
                 style: { stroke: BLUE, lineWidth: 1.3 } };
      }
    });
  }
  if (p.avg) {
    series.push({
      type: 'line', name: 'Quiet Avg', xAxisIndex: g, yAxisIndex: g, data: p.avg,
      symbol: 'circle', symbolSize: 9, showAllSymbol: true,
      lineStyle: { width: 0, opacity: 0 },
      itemStyle: { color: 'rgba(0,0,0,0)', borderColor: BLUE, borderWidth: 1.6 },
      silent: true, animation: false
    });
  }
  series.push({
    type: 'scatter', name: 'Disturbed', xAxisIndex: g, yAxisIndex: g, data: expand(p.dist),
    symbol: STAR, symbolSize: 10, symbolKeepAspect: true,
    itemStyle: { color: 'rgba(0,0,0,0)', borderColor: RED, borderWidth: 1.8 },
    silent: true, animation: false
  });
});

const panelTitle = function (text, left, top) {
  return {
    text: text, left: left, top: top, padding: 0,
    textStyle: { rich: {
      t: { fontFamily: FONT, fontWeight: 'bold', fontSize: 18, color: BLACK },
      s: { fontFamily: FONT, fontWeight: 'bold', fontSize: 12, color: BLACK, padding: [16, 0, 0, 0] }
    } }
  };
};

const legendText = { fontFamily: FONT, fontSize: 16, color: BLACK };

const option = {
  backgroundColor: '#ffffff',
  animation: false,
  title: [
    panelTitle('{t|(a) TIR, L}{s|B}', 29, 8),
    panelTitle('{t|(b) GAD, L}{s|C}', 13, 233),
    panelTitle('{t|(c) KOP, L}{s|A}', 23, 451),
    { text: '17\u201318 Sept 2011', left: 520, top: 20, padding: 0,
      textStyle: { fontFamily: '"DejaVu Sans", sans-serif', fontWeight: 'bold', fontSize: 16, color: BLACK } }
  ],
  legend: [
    { data: ['Quiet'], left: 695, top: 23, padding: 0, itemWidth: 55, itemHeight: 7, selectedMode: false,
      textStyle: legendText, itemStyle: { borderWidth: 1.3 } },
    { data: ['Quiet Avg'], left: 783, top: 23, padding: 0, itemWidth: 52, itemHeight: 10, selectedMode: false,
      textStyle: legendText, lineStyle: { color: BLUE, width: 2, opacity: 1 },
      itemStyle: { color: '#ffffff', borderColor: BLUE, borderWidth: 1.5 } },
    { data: ['Disturbed'], left: 948, top: 23, padding: 0, itemWidth: 54, itemHeight: 10, selectedMode: false,
      textStyle: legendText, itemStyle: { borderWidth: 1.8 } }
  ],
  grid: grids,
  xAxis: xAxes,
  yAxis: yAxes,
  series: series
};

const chart = echarts.init(document.getElementById('chart'), null, { renderer: 'canvas' });
chart.setOption(option);
</script>
</body>
</html>
